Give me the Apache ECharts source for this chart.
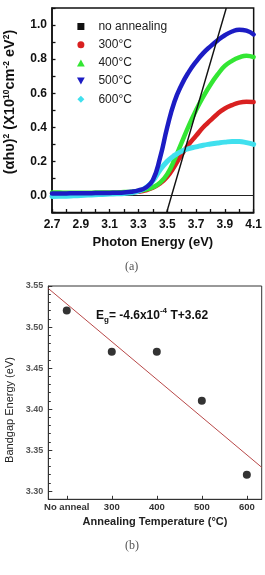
<!DOCTYPE html>
<html><head><meta charset="utf-8">
<script src="https://cdn.jsdelivr.net/npm/echarts@6/dist/echarts.min.js"></script>
<style>html,body{margin:0;padding:0;background:#fff}#c{width:265px;height:575px}</style>
</head><body><div id="c"></div>
<script>
// ---- Panel (a) data ----
const energy = [2.7,2.75,2.8,2.85,2.9,2.95,3.0,3.05,3.1,3.15,3.2,3.25,3.3,3.35,3.4,3.45,3.5,3.55,3.6,3.65,3.7,3.75,3.8,3.85,3.9,3.95,4.0,4.05,4.1];
const s300 = [0.012,0.012,0.012,0.012,0.012,0.013,0.013,0.014,0.014,0.015,0.016,0.018,0.022,0.03,0.045,0.07,0.11,0.17,0.24,0.30,0.35,0.40,0.44,0.48,0.51,0.53,0.545,0.55,0.548];
const s400 = [0.017,0.017,0.016,0.016,0.016,0.016,0.017,0.017,0.017,0.018,0.02,0.022,0.026,0.034,0.048,0.075,0.125,0.21,0.31,0.41,0.50,0.58,0.65,0.71,0.76,0.79,0.81,0.82,0.812];
const s500 = [0.012,0.012,0.012,0.013,0.013,0.013,0.014,0.014,0.015,0.016,0.018,0.022,0.03,0.045,0.09,0.22,0.40,0.55,0.65,0.725,0.785,0.835,0.875,0.91,0.94,0.962,0.973,0.967,0.945];
const s600 = [-0.006,-0.005,-0.004,-0.002,0.0,0.002,0.004,0.006,0.008,0.01,0.012,0.016,0.025,0.045,0.085,0.15,0.20,0.235,0.26,0.275,0.285,0.295,0.302,0.308,0.313,0.316,0.316,0.31,0.30];
const tangentX = [3.496, 3.91];
const tangentY = [-0.1, 1.1];
const legendNames = ['no annealing','300°C','400°C','500°C','600°C'];
const topXTicks = [2.7,2.9,3.1,3.3,3.5,3.7,3.9,4.1];
const topXMinor = [2.7,2.8,2.9,3.0,3.1,3.2,3.3,3.4,3.5,3.6,3.7,3.8,3.9,4.0,4.1];
const topYTicks = [0.0,0.2,0.4,0.6,0.8,1.0];
const topYMinor = [-0.1,0.0,0.1,0.2,0.3,0.4,0.5,0.6,0.7,0.8,0.9,1.0,1.1];

// ---- Panel (b) data ----
const tempLabels = ['No anneal','300','400','500','600'];
const tempValues = [200,300,400,500,600];
const bandgap = [3.52,3.47,3.47,3.41,3.32];
const fitX = [159, 633];
const fitY = [3.547, 3.329];
const botYTicks = [3.30,3.35,3.40,3.45,3.50,3.55];
const botYMinor = [3.29,3.30,3.31,3.32,3.33,3.34,3.35,3.36,3.37,3.38,3.39,3.40,3.41,3.42,3.43,3.44,3.45,3.46,3.47,3.48,3.49,3.50,3.51,3.52,3.53,3.54,3.55];

const FONT = 'Liberation Sans, Arial, sans-serif';
const zip = (xs, ys) => xs.map((x, i) => [x, ys[i]]);

const chart = echarts.init(document.getElementById('c'), null, {renderer: 'canvas'});

const lineSeries = (name, data, color, width, z) => ({
  name, type: 'line', xAxisIndex: 0, yAxisIndex: 0, data: zip(energy, data),
  smooth: 0.5, symbol: 'none', z: z,
  lineStyle: {color, width, cap: 'round', join: 'round'}, itemStyle: {color}
});

const option = {
  animation: false,
  grid: [
    {left: 52, top: 8, width: 204, height: 204.5, show: true, borderColor: '#111', borderWidth: 1.5},
    {left: 48.3, top: 286, width: 213.4, height: 213.3, show: true, borderColor: '#333', borderWidth: 1}
  ],
  legend: {
    orient: 'vertical', left: 72, top: 14.5, itemWidth: 25, itemHeight: 7, itemGap: 4.2,
    textStyle: {fontFamily: FONT, fontSize: 12, color: '#222', lineHeight: 14},
    selectedMode: false,
    data: [
      {name: legendNames[0], icon: 'path://M0,0L10,0L10,10L0,10Z'},
      {name: legendNames[1], icon: 'circle'},
      {name: legendNames[2], icon: 'path://M5,0L10,9L0,9Z'},
      {name: legendNames[3], icon: 'path://M0,0L10,0L5,9Z'},
      {name: legendNames[4], icon: 'path://M5,0L10,5L5,10L0,5Z'}
    ]
  },
  xAxis: [
    {gridIndex: 0, type: 'value', min: 2.7, max: 4.1,
     name: 'Photon Energy (eV)', nameLocation: 'middle', nameGap: 23,
     nameTextStyle: {fontFamily: FONT, fontSize: 13, fontWeight: 'bold', color: '#111'},
     axisLine: {show: true, onZero: false, lineStyle: {color: '#111', width: 1.5}},
     axisTick: {show: true, inside: true, length: 3.5, customValues: topXMinor, lineStyle: {color: '#111', width: 1.3}},
     axisLabel: {customValues: topXTicks, fontFamily: FONT, fontSize: 12, fontWeight: 'bold', color: '#111', margin: 6,
                 formatter: v => v.toFixed(1)},
     splitLine: {show: false}},
    {gridIndex: 1, type: 'value', min: 159, max: 633,
     name: 'Annealing Temperature (°C)', nameLocation: 'middle', nameGap: 17,
     nameTextStyle: {fontFamily: FONT, fontSize: 11, fontWeight: 'bold', color: '#222'},
     axisLine: {show: true, onZero: false, lineStyle: {color: '#333', width: 1}},
     axisTick: {show: true, inside: true, length: 3.5, customValues: tempValues, lineStyle: {color: '#333'}},
     axisLabel: {customValues: tempValues, fontFamily: FONT, fontSize: 9.5, fontWeight: 'bold', color: '#333', margin: 3,
                 formatter: v => tempLabels[tempValues.indexOf(Math.round(v))] || ''},
     splitLine: {show: false}}
  ],
  yAxis: [
    {gridIndex: 0, type: 'value', min: -0.1, max: 1.1,
     axisLine: {show: true, onZero: false, lineStyle: {color: '#111', width: 1.5}},
     axisTick: {show: true, inside: true, length: 3.5, customValues: topYMinor, lineStyle: {color: '#111', width: 1.3}},
     axisLabel: {customValues: topYTicks, fontFamily: FONT, fontSize: 12, fontWeight: 'bold', color: '#111', margin: 5,
                 formatter: v => v.toFixed(1)},
     splitLine: {show: false}},
    {gridIndex: 1, type: 'value', min: 3.29, max: 3.55,
     axisLine: {show: true, onZero: false, lineStyle: {color: '#333', width: 1}},
     axisTick: {show: true, inside: true, length: 4, customValues: botYTicks, lineStyle: {color: '#333'}},
     axisLabel: {customValues: botYTicks, fontFamily: FONT, fontSize: 9, fontWeight: 'bold', color: '#555', margin: 5,
                 formatter: v => v.toFixed(2)},
     splitLine: {show: false}},
    {gridIndex: 1, type: 'value', min: 3.29, max: 3.55, position: 'left',
     axisLine: {show: false}, axisLabel: {show: false}, splitLine: {show: false},
     axisTick: {show: true, inside: true, length: 2.5, customValues: botYMinor, lineStyle: {color: '#333'}}}
  ],
  series: [
    {name: legendNames[0], type: 'line', xAxisIndex: 0, yAxisIndex: 0, data: zip(tangentX, tangentY),
     symbol: 'none', z: 10, lineStyle: {color: '#111', width: 1.4}, itemStyle: {color: '#111'},
     markLine: {silent: true, symbol: ['none','none'], label: {show: false},
                lineStyle: {color: '#222', width: 1, type: 'solid'}, data: [{yAxis: 0}]}},
    lineSeries(legendNames[1], s300, '#d92020', 4.5, 3),
    lineSeries(legendNames[2], s400, '#33e633', 4.5, 4),
    lineSeries(legendNames[4], s600, '#40e0ee', 5, 5),
    lineSeries(legendNames[3], s500, '#1c1cc4', 4.5, 6),
    {name: 'fit', type: 'line', xAxisIndex: 1, yAxisIndex: 1, data: zip(fitX, fitY),
     symbol: 'none', lineStyle: {color: '#b84848', width: 1}, z: 3},
    {name: 'Eg', type: 'scatter', xAxisIndex: 1, yAxisIndex: 1, data: zip(tempValues, bandgap),
     symbol: 'circle', symbolSize: 8, itemStyle: {color: '#000'}, z: 5}
  ],
  graphic: [
    {type: 'text', x: 10, y: 102, rotation: Math.PI / 2, z: 20,
     style: {text: '{t|(αhυ)}{s|2}{t| (X10}{s|10}{t|cm}{s|-2}{t| eV}{s|2}{t|)}', align: 'center', verticalAlign: 'middle',
       rich: {t: {fontFamily: FONT, fontSize: 14.5, fontWeight: 'bold', fill: '#111', lineHeight: 15, verticalAlign: 'bottom'},
              s: {fontFamily: FONT, fontSize: 8.5, fontWeight: 'bold', fill: '#111', lineHeight: 15, verticalAlign: 'top'}}}},
    {type: 'text', x: 10, y: 410, rotation: Math.PI / 2, z: 20,
     style: {text: 'Bandgap Energy (eV)', align: 'center', verticalAlign: 'middle',
             fontFamily: FONT, fontSize: 11, fill: '#222'}},
    {type: 'text', left: 96, top: 307, z: 20,
     style: {text: '{m|E}{b|g}{m|= -4.6x10}{p|-4}{m| T+3.62}', fill: '#111',
       rich: {m: {fontFamily: FONT, fontSize: 12, fontWeight: 'bold', fill: '#111', lineHeight: 17, verticalAlign: 'middle'},
              b: {fontFamily: FONT, fontSize: 8, fontWeight: 'bold', fill: '#111', lineHeight: 17, verticalAlign: 'bottom'},
              p: {fontFamily: FONT, fontSize: 8, fontWeight: 'bold', fill: '#111', lineHeight: 17, verticalAlign: 'top'}}}},
    {type: 'text', left: 125, top: 261, style: {text: '(a)', fontFamily: 'Liberation Serif, serif', fontSize: 12, fill: '#555'}},
    {type: 'text', left: 125, top: 540, style: {text: '(b)', fontFamily: 'Liberation Serif, serif', fontSize: 12, fill: '#555'}}
  ]
};
chart.setOption(option);
</script>
</body></html>
